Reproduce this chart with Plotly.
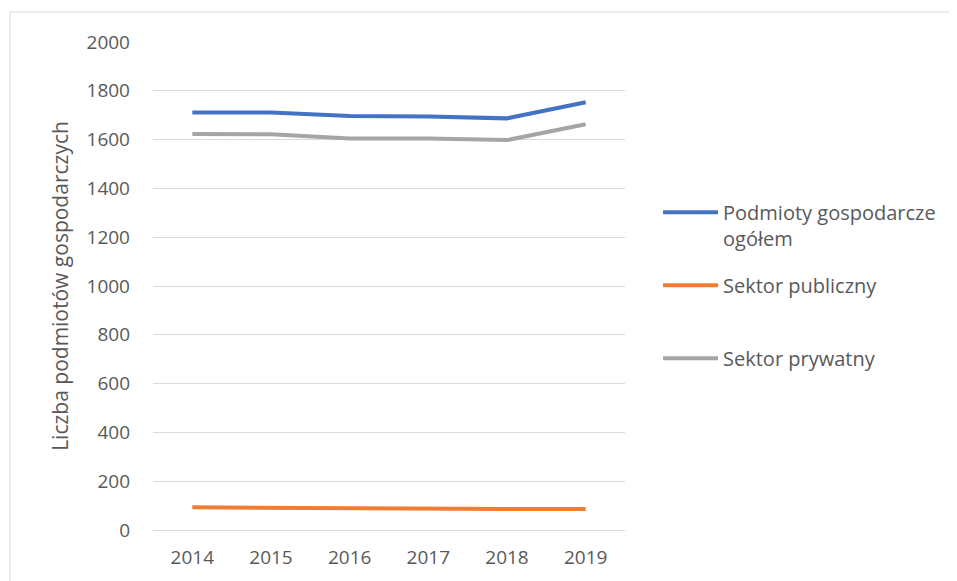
import plotly.graph_objects as go

# dane
lata = ['2014', '2015', '2016', '2017', '2018', '2019']
ogolem = [1711, 1711, 1697, 1695, 1687, 1753]
publiczny = [93, 91, 86, 86, 86, 86]
prywatny = [1623, 1622, 1605, 1604, 1598, 1663]

nazwy = ['Podmioty gospodarcze<br>ogółem', 'Sektor publiczny<br> ', 'Sektor prywatny']
kolory = ['#4472C4', '#ED7D31', '#A5A5A5']
y_ticks = list(range(0, 2001, 200))

fig = go.Figure()
for i, (nazwa, wartosci) in enumerate(zip(nazwy, [ogolem, publiczny, prywatny])):
    fig.add_trace(go.Scatter(x=lata, y=wartosci, name=nazwa, mode='lines',
                             line=dict(color=kolory[i], width=4), legendgroup=str(i)))

szary = '#595959'

# strona ma 8px marginesu body, wiec figura jest o 8px mniejsza
fig.update_layout(
    width=949, height=573,
    margin=dict(l=145, r=332, t=34, b=51),
    plot_bgcolor='white', paper_bgcolor='white',
    font=dict(family='Open Sans', size=18, color=szary),
    showlegend=True,
    legend=dict(x=1.07, y=0.691, xanchor='left', yanchor='top', font=dict(size=20, color=szary),
                itemwidth=55, tracegroupgap=18, valign='top', bgcolor='rgba(0,0,0,0)'),
    shapes=[dict(type='rect', xref='paper', yref='paper', x0=-0.303, y0=-1, x1=2, y1=1.0615,
                 line=dict(color='#d9d9d9', width=1), layer='below')],
)
fig.update_xaxes(type='category', range=[-0.5, 5.5], showgrid=False, showline=True, linecolor='#d9d9d9',
                 ticks='', ticklabelstandoff=10, tickfont=dict(size=19, color=szary))
fig.update_yaxes(range=[0, 2000], tickvals=y_ticks, showgrid=True, gridcolor='#d9d9d9',
                 zeroline=False, ticks='', ticklabelstandoff=22,
                 tickfont=dict(size=19, color=szary),
                 title=dict(text='Liczba podmiotów gospodarczych', font=dict(size=21, color=szary),
                            standoff=12))

fig.write_html("out.html")
